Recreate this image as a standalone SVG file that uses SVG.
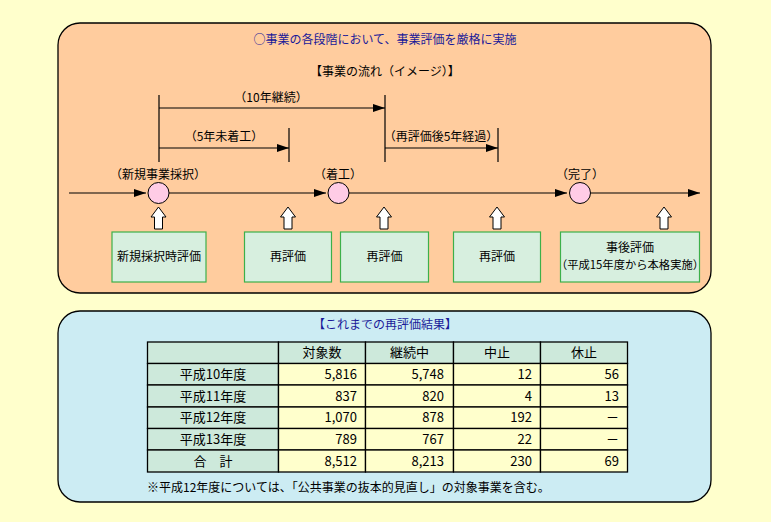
<svg xmlns="http://www.w3.org/2000/svg" xmlns:xlink="http://www.w3.org/1999/xlink" width="771" height="522" viewBox="0 0 771 522">
<style>
text{font-family:"Noto Sans CJK JP","Noto Sans",sans-serif;font-size:12px;fill:#000}
.ttl{fill:#1a1a99}
.c{text-anchor:middle}
.r{text-anchor:end}
.ln{stroke:#000;stroke-width:1.2;fill:none}
.arr{marker-end:url(#ah)}
.box{fill:#d7efdf;stroke:#3cb04a;stroke-width:1.2}
.node{fill:#ffcce6;stroke:#000;stroke-width:1}
.up{fill:#fff;stroke:#000;stroke-width:1}
.th{fill:#cde9db;stroke:#000;stroke-width:1.3}
.td{fill:#ffffcc;stroke:#000;stroke-width:1.3}
.tt{font-size:13px}
</style>
<defs>
<marker id="ah" markerUnits="userSpaceOnUse" markerWidth="13" markerHeight="8" refX="12" refY="4" orient="auto">
<path d="M0,0 L12,4 L0,8 Z" fill="#000"/>
</marker>
<path id="upa" class="up" d="M0,207 L7.5,217 L4,217 L4,229 L-4,229 L-4,217 L-7.5,217 Z"/>
</defs>
<rect width="771" height="522" fill="#ffffcc"/>
<g id="panel-top">
<rect x="58" y="23" width="653" height="270" rx="22" fill="#ffcc9e" stroke="#000" stroke-width="1.3"/>
<text class="ttl c" x="385" y="44">○事業の各段階において、事業評価を厳格に実施</text>
<text class="c" x="385" y="76">【事業の流れ（イメージ）】</text>
</g>
<g id="connectors">
<line class="ln" x1="159" y1="95" x2="159" y2="162"/>
<line class="ln" x1="385" y1="95" x2="385" y2="162"/>
<line class="ln" x1="289" y1="128" x2="289" y2="162"/>
<line class="ln" x1="498" y1="128" x2="498" y2="162"/>
<line class="ln arr" x1="159" y1="108" x2="385" y2="108"/>
<line class="ln arr" x1="159" y1="148" x2="289" y2="148"/>
<line class="ln arr" x1="385" y1="148" x2="498" y2="148"/>
<line class="ln arr" x1="69" y1="193" x2="146" y2="193"/>
<line class="ln arr" x1="169" y1="193" x2="326" y2="193"/>
<line class="ln arr" x1="349" y1="193" x2="567" y2="193"/>
<line class="ln arr" x1="591" y1="193" x2="700" y2="193"/>
<use xlink:href="#upa" x="158.5"/>
<use xlink:href="#upa" x="288"/>
<use xlink:href="#upa" x="384"/>
<use xlink:href="#upa" x="497"/>
<use xlink:href="#upa" x="664"/>
</g>
<g id="labels">
<text class="c" x="271" y="102">（10年継続）</text>
<text class="c" x="224" y="141">（5年未着工）</text>
<text class="c" x="441" y="141">（再評価後5年経過）</text>
</g>
<g id="node-shinki">
<text class="c" x="158" y="179">（新規事業採択）</text>
<circle class="node" cx="158.5" cy="193" r="10.5"/>
</g>
<g id="node-chakko">
<text class="c" x="338" y="179">（着工）</text>
<circle class="node" cx="338.5" cy="193" r="10.5"/>
</g>
<g id="node-kanryo">
<text class="c" x="580" y="179">（完了）</text>
<circle class="node" cx="580" cy="193" r="10.5"/>
</g>
<g id="box-shinki">
<rect class="box" x="112" y="232" width="94" height="50"/>
<text class="c" x="159" y="261">新規採択時評価</text>
</g>
<g id="box-sai1">
<rect class="box" x="244.5" y="232" width="87" height="50"/>
<text class="c" x="288" y="261">再評価</text>
</g>
<g id="box-sai2">
<rect class="box" x="340.5" y="232" width="88" height="50"/>
<text class="c" x="384.5" y="261">再評価</text>
</g>
<g id="box-sai3">
<rect class="box" x="453.5" y="232" width="87" height="50"/>
<text class="c" x="497" y="261">再評価</text>
</g>
<g id="box-jigo">
<rect class="box" x="560.5" y="232" width="139" height="50"/>
<text class="c" x="630" y="252">事後評価</text>
<text class="c" x="630" y="269" style="font-size:11.3px">（平成15年度から本格実施）</text>
</g>
<g id="panel-bottom">
<rect x="58" y="311" width="653" height="191" rx="22" fill="#ccecf3" stroke="#000" stroke-width="1.3"/>
<text class="ttl c" x="385" y="329">【これまでの再評価結果】</text>
</g>
<g id="table">
<rect class="th" x="147.5" y="342" width="131" height="21.5"/>
<rect class="th" x="278.5" y="342" width="87" height="21.5"/>
<rect class="th" x="365.5" y="342" width="88" height="21.5"/>
<rect class="th" x="453.5" y="342" width="87" height="21.5"/>
<rect class="th" x="540.5" y="342" width="87" height="21.5"/>
<rect class="th" x="147.5" y="363.5" width="131" height="21.5"/>
<rect class="th" x="147.5" y="385" width="131" height="22"/>
<rect class="th" x="147.5" y="407" width="131" height="21.5"/>
<rect class="th" x="147.5" y="428.5" width="131" height="21.5"/>
<rect class="th" x="147.5" y="450" width="131" height="22"/>
<g>
<rect class="td" x="278.5" y="363.5" width="87" height="21.5"/><rect class="td" x="365.5" y="363.5" width="88" height="21.5"/><rect class="td" x="453.5" y="363.5" width="87" height="21.5"/><rect class="td" x="540.5" y="363.5" width="87" height="21.5"/>
<rect class="td" x="278.5" y="385" width="87" height="22"/><rect class="td" x="365.5" y="385" width="88" height="22"/><rect class="td" x="453.5" y="385" width="87" height="22"/><rect class="td" x="540.5" y="385" width="87" height="22"/>
<rect class="td" x="278.5" y="407" width="87" height="21.5"/><rect class="td" x="365.5" y="407" width="88" height="21.5"/><rect class="td" x="453.5" y="407" width="87" height="21.5"/><rect class="td" x="540.5" y="407" width="87" height="21.5"/>
<rect class="td" x="278.5" y="428.5" width="87" height="21.5"/><rect class="td" x="365.5" y="428.5" width="88" height="21.5"/><rect class="td" x="453.5" y="428.5" width="87" height="21.5"/><rect class="td" x="540.5" y="428.5" width="87" height="21.5"/>
<rect class="td" x="278.5" y="450" width="87" height="22"/><rect class="td" x="365.5" y="450" width="88" height="22"/><rect class="td" x="453.5" y="450" width="87" height="22"/><rect class="td" x="540.5" y="450" width="87" height="22"/>
</g>
<text class="tt c" x="322" y="357">対象数</text>
<text class="tt c" x="409.5" y="357">継続中</text>
<text class="tt c" x="497" y="357">中止</text>
<text class="tt c" x="584" y="357">休止</text>
<text class="tt c" x="213" y="379">平成10年度</text>
<text class="tt c" x="213" y="400.5">平成11年度</text>
<text class="tt c" x="213" y="422">平成12年度</text>
<text class="tt c" x="213" y="443.5">平成13年度</text>
<text class="tt c" x="213" y="465.5">合　計</text>
<text class="tt r" x="357" y="379">5,816</text><text class="tt r" x="444" y="379">5,748</text><text class="tt r" x="532" y="379">12</text><text class="tt r" x="619" y="379">56</text>
<text class="tt r" x="357" y="400.5">837</text><text class="tt r" x="444" y="400.5">820</text><text class="tt r" x="532" y="400.5">4</text><text class="tt r" x="619" y="400.5">13</text>
<text class="tt r" x="357" y="422">1,070</text><text class="tt r" x="444" y="422">878</text><text class="tt r" x="532" y="422">192</text><text class="tt r" x="619" y="422">－</text>
<text class="tt r" x="357" y="443.5">789</text><text class="tt r" x="444" y="443.5">767</text><text class="tt r" x="532" y="443.5">22</text><text class="tt r" x="619" y="443.5">－</text>
<text class="tt r" x="357" y="465.5">8,512</text><text class="tt r" x="444" y="465.5">8,213</text><text class="tt r" x="532" y="465.5">230</text><text class="tt r" x="619" y="465.5">69</text>
<text x="147" y="492">※平成12年度については、「公共事業の抜本的見直し」の対象事業を含む。</text>
</g>
</svg>
